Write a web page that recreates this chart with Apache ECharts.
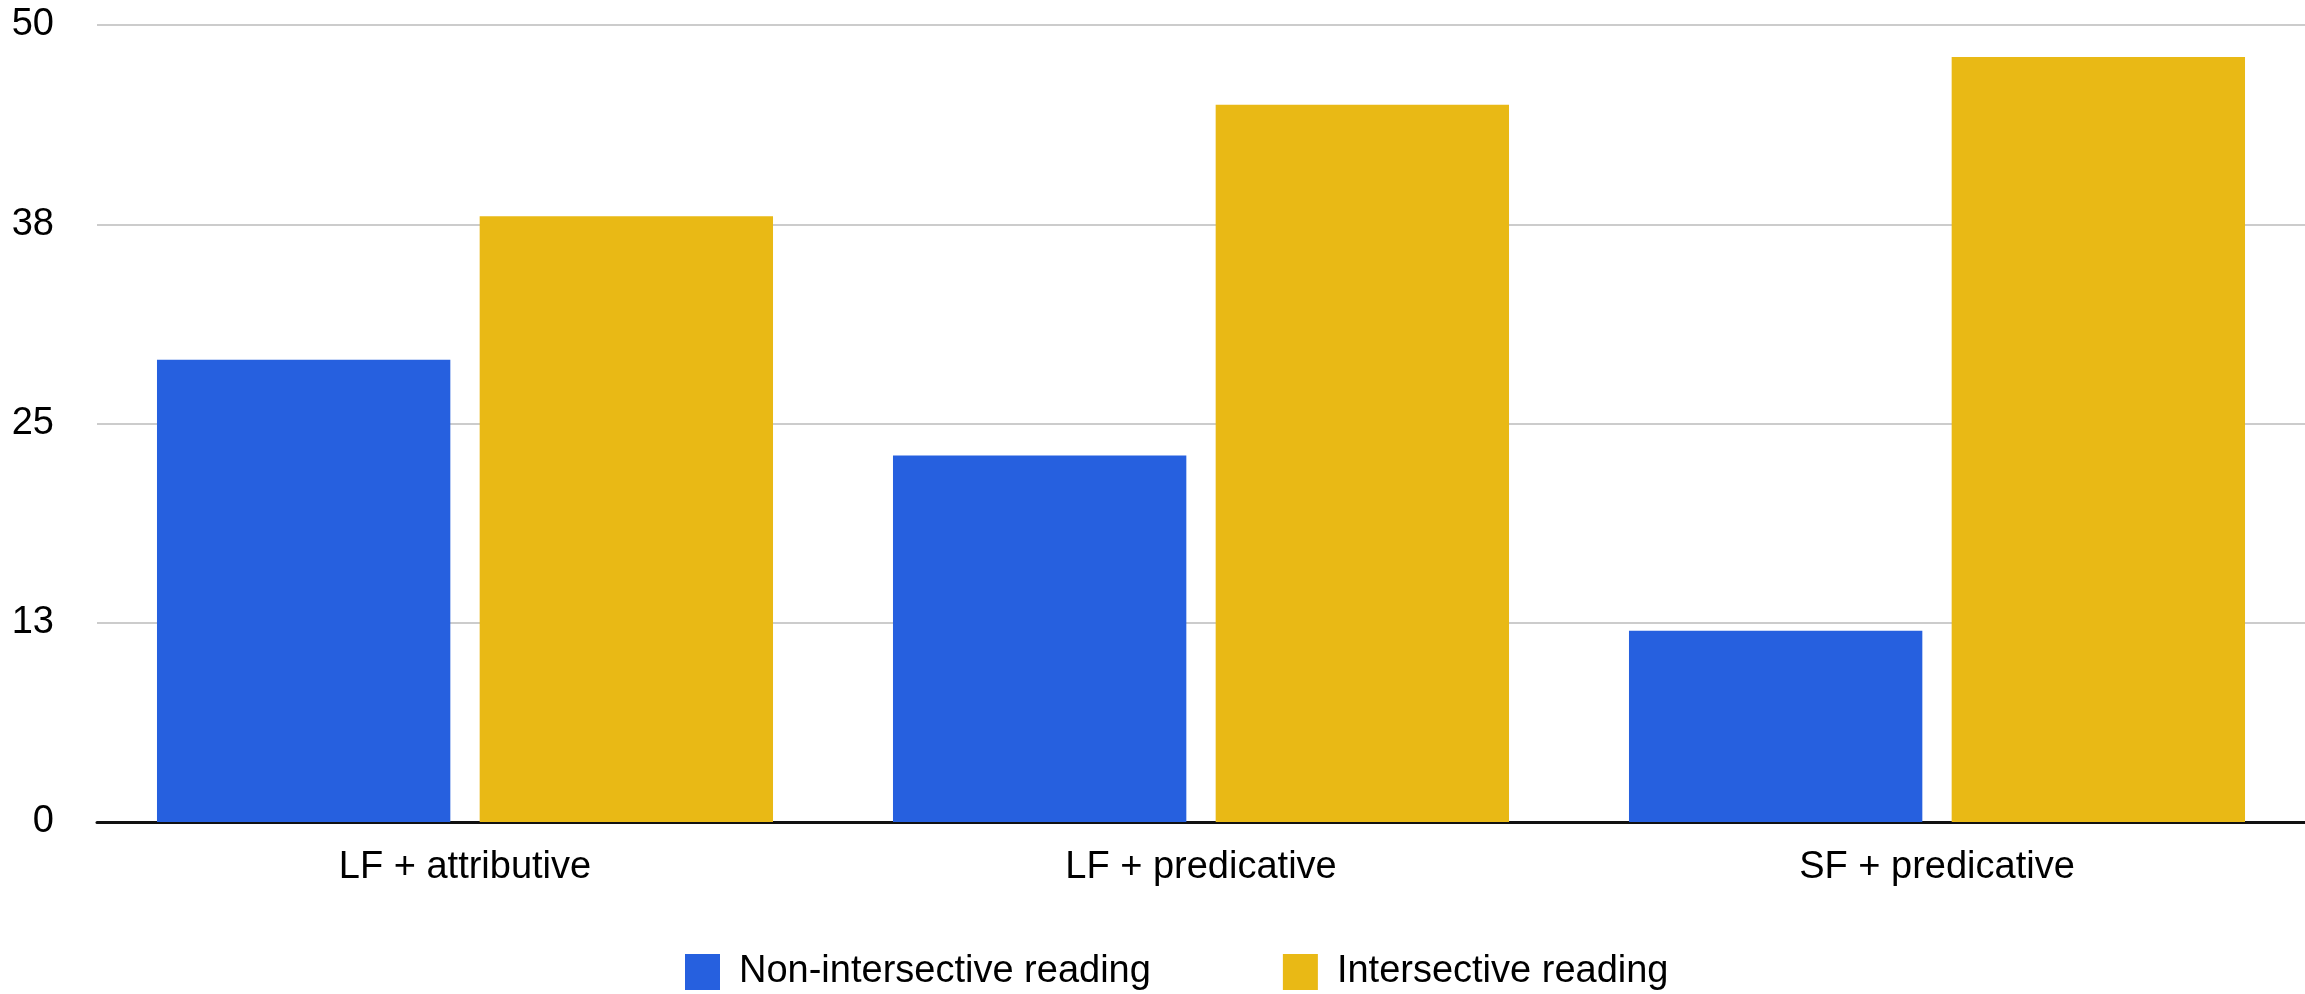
<!DOCTYPE html>
<html>
<head>
<meta charset="utf-8">
<title>Readings by form and position</title>
<script src="https://cdn.jsdelivr.net/npm/echarts@6/dist/echarts.min.js"></script>
<style>
  html, body { margin: 0; padding: 0; background: #ffffff; }
  #chart { width: 2305px; height: 994px; }
</style>
</head>
<body>
<div id="chart"></div>
<script>
// Categories along the x axis
const categories = ['LF + attributive', 'LF + predicative', 'SF + predicative'];

// Series names and values
const nonIntersectiveName = 'Non-intersective reading';
const nonIntersective = [29, 23, 12];

const intersectiveName = 'Intersective reading';
const intersective = [38, 45, 48];

// Value axis range
const yMin = 0;
const yMax = 50;
const yStep = 12.5;

const FONT = '"Liberation Sans", Arial, Helvetica, sans-serif';
const BLUE = '#2660df';
const GOLD = '#e9b915';

const chart = echarts.init(document.getElementById('chart'), null, { renderer: 'canvas' });

chart.setOption({
  animation: false,
  backgroundColor: '#ffffff',
  textStyle: { fontFamily: FONT },
  grid: { left: 97, right: 0, top: 25, bottom: 172, containLabel: false },
  legend: {
    left: 680,
    top: 948,
    itemWidth: 35,
    itemHeight: 36,
    itemGap: 132,
    icon: 'rect',
    textStyle: { fontFamily: FONT, fontSize: 38, color: '#000000', padding: [0, 0, 0, 14] },
    data: [nonIntersectiveName, intersectiveName]
  },
  xAxis: {
    type: 'category',
    data: categories,
    axisLine: { show: true, lineStyle: { color: '#111111', width: 3 } },
    axisTick: { show: false },
    axisLabel: { fontFamily: FONT, fontSize: 38, color: '#000000', margin: 27 },
    splitLine: { show: false }
  },
  yAxis: {
    type: 'value',
    min: yMin,
    max: yMax,
    interval: yStep,
    axisLine: { show: false },
    axisTick: { show: false },
    axisLabel: {
      fontFamily: FONT,
      fontSize: 38,
      color: '#000000',
      margin: 43,
      formatter: v => String(Math.round(v))
    },
    splitLine: { show: true, lineStyle: { color: '#cccccc', width: 2 } }
  },
  series: [
    {
      name: nonIntersectiveName,
      type: 'bar',
      data: nonIntersective,
      itemStyle: { color: BLUE },
      barGap: '10%',
      barCategoryGap: '16.3%'
    },
    {
      name: intersectiveName,
      type: 'bar',
      data: intersective,
      itemStyle: { color: GOLD },
      barGap: '10%',
      barCategoryGap: '16.3%'
    }
  ]
});
</script>
</body>
</html>
